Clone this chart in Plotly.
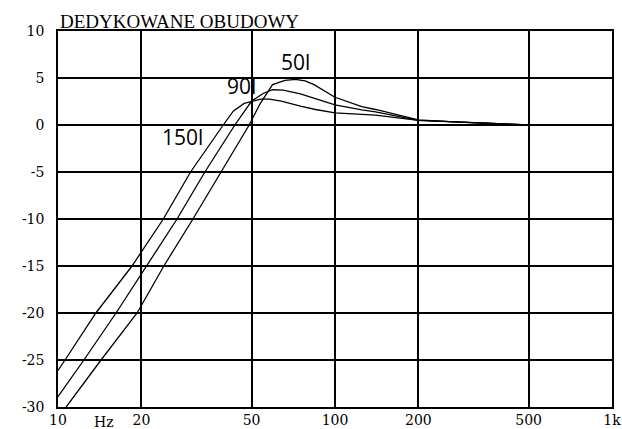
import plotly.graph_objects as go

# Frequencies (Hz) and levels (dB)
freq_150 = [10, 10.6, 13.7, 18.5, 24, 30.1, 39.5, 41.3, 43, 47, 50, 54, 58, 64, 75, 85, 100, 125, 140, 200, 280, 400, 500, 1000]
db_150 = [-26.1, -25, -20, -15, -10, -5, 0, 0.8, 1.5, 2.3, 2.5, 2.75, 2.75, 2.55, 2.0, 1.65, 1.3, 1.12, 1.05, 0.5, 0.3, 0.1, 0.0, 0.0]

freq_90 = [10, 12.4, 16.2, 20.8, 26.9, 33.9, 43.5, 50, 55, 59.5, 65, 75, 85, 100, 125, 140, 200, 280, 400, 500, 1000]
db_90 = [-28.9, -25, -20, -15, -10, -5, 0, 2.55, 3.35, 3.75, 3.7, 3.3, 2.8, 2.15, 1.6, 1.4, 0.5, 0.3, 0.1, 0.0, 0.0]

freq_50 = [10.7, 14.3, 19.3, 24.1, 30.7, 38.7, 49, 53.5, 59.5, 66, 72, 78, 84, 100, 125, 140, 200, 280, 400, 500, 1000]
db_50 = [-30, -25, -20, -15, -10, -5, 0, 2.2, 4.3, 4.75, 4.85, 4.7, 4.3, 2.95, 1.95, 1.65, 0.55, 0.3, 0.1, 0.0, -0.05]

x_tickvals = [10, 20, 50, 100, 200, 500, 1000]
x_ticktext = ["10", "20", "50", "100", "200", "500", "1k"]
y_tickvals = [10, 5, 0, -5, -10, -15, -20, -25, -30]
y_ticktext = ["10", "5", "0", "-5", "-10", "-15", "-20", "-25", "-30"]

title_text = "DEDYKOWANE OBUDOWY"
curve_labels = ["150l", "90l", "50l"]

serif_title = "Liberation Serif"
serif = "DejaVu Serif"
sans = "Open Sans"

fig = go.Figure()
for fx, fy, name in [(freq_150, db_150, curve_labels[0]),
                     (freq_90, db_90, curve_labels[1]),
                     (freq_50, db_50, curve_labels[2])]:
    fig.add_trace(go.Scatter(x=fx, y=fy, mode="lines", name=name,
                             line=dict(color="black", width=1.3),
                             showlegend=False, hoverinfo="skip"))

# curve labels: (label, x in log10 units, y in dB)
label_pos = [(curve_labels[0], 1.449, -1.3), (curve_labels[1], 1.663, 4.1), (curve_labels[2], 1.856, 6.7)]
for txt, lx, ly in label_pos:
    fig.add_annotation(x=lx, y=ly, xref="x", yref="y", text=txt, showarrow=False,
                       font=dict(family=sans, size=21, color="black"),
                       xanchor="center", yanchor="middle")

fig.add_annotation(x=1.166, y=0, xref="x", yref="paper", yshift=-15, text="Hz",
                   showarrow=False, font=dict(family=serif, size=14, color="black"),
                   xanchor="center", yanchor="middle")

fig.add_annotation(x=0, y=1, xref="paper", yref="paper", text=title_text, showarrow=False,
                   font=dict(family=serif_title, size=19, color="black"),
                   xanchor="left", yanchor="bottom", yshift=-3)

fig.update_xaxes(type="log", range=[1, 3], tickvals=x_tickvals, ticktext=x_ticktext,
                 showgrid=True, gridcolor="black", gridwidth=1.5,
                 showline=True, linecolor="black", linewidth=1.5, mirror=True,
                 ticks="", zeroline=False, automargin=False, ticklabelstandoff=-1,
                 tickfont=dict(family=serif, size=14, color="black"))
fig.update_yaxes(range=[-30, 10], tickvals=y_tickvals, ticktext=y_ticktext,
                 showgrid=True, gridcolor="black", gridwidth=1.5,
                 showline=True, linecolor="black", linewidth=1.5, mirror=True,
                 ticks="", zeroline=False, ticklabelstandoff=9, automargin=False,
                 tickfont=dict(family=serif, size=14, color="black"))

fig.update_layout(width=622, height=429, margin=dict(l=58, r=10, t=31, b=22),
                  plot_bgcolor="white", paper_bgcolor="white")

fig.write_html("out.html", config={"displayModeBar": False},
               post_script="document.body.style.margin='0px';document.body.style.overflow='hidden';")
